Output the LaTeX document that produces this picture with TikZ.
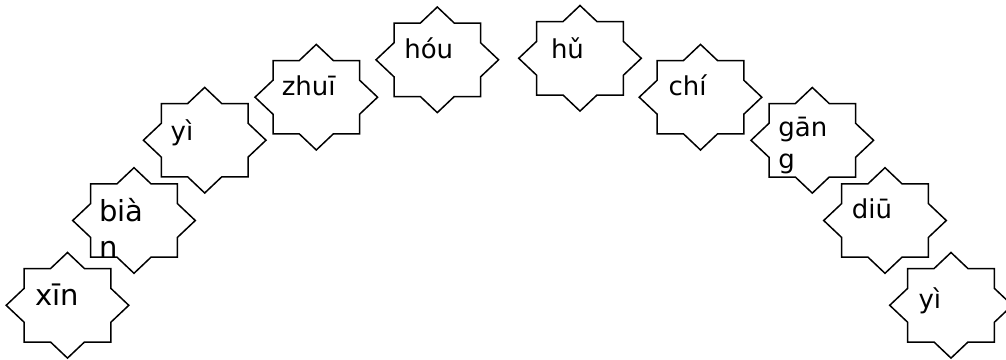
\documentclass[tikz,border=0pt]{standalone}
\usepackage{fontspec}
\setmainfont{DejaVu Sans}
\tikzset{
  starline/.style={draw=black, line width=1.5pt, line join=miter, fill=white},
  starbox/.style={draw=none, inner sep=0pt, minimum width=122.6pt, minimum height=105.6pt},
  pylabel/.style={anchor=base west, inner sep=0pt, outer sep=0pt, align=left, text=black},
  bigpy/.style={font=\fontsize{29}{35.3}\selectfont},
  smallpy/.style={font=\fontsize{26}{31.6}\selectfont},
}
\newcommand\pystar[3]{% name, cx, cy
  \node[starbox] (#1) at (#2,#3) {};
  \draw[starline, shift={(#1.center)}]
    (61.3,0) -- (43.3,17) -- (43.3,36.7) -- (17,36.7) -- (0,52.8) -- (-17,36.7)
    -- (-43.3,36.7) -- (-43.3,17) -- (-61.3,0) -- (-43.3,-17) -- (-43.3,-36.7)
    -- (-17,-36.7) -- (0,-52.8) -- (17,-36.7) -- (43.3,-36.7) -- (43.3,-17) -- cycle;
}
\begin{document}
\begin{tikzpicture}[x=1pt, y=-1pt]
\useasboundingbox (0,0) rectangle (1006,359);
\pystar{s1}{67.5}{305.3}
\pystar{s2}{134}{220.5}
\pystar{s3}{204.7}{140.2}
\pystar{s4}{316.3}{97.2}
\pystar{s5}{437.3}{59.8}
\pystar{s6}{580}{58.3}
\pystar{s7}{700.5}{97.2}
\pystar{s8}{812.3}{140.3}
\pystar{s9}{885}{220.5}
\pystar{s10}{951}{305.3}
\node[pylabel, bigpy] (t1) at (35.5,305) {xīn};
\node[pylabel, bigpy] (t2) at (99,257) {bià\\n};
\node[pylabel, smallpy] (t3) at (170.7,140) {yì};
\node[pylabel, smallpy] (t4) at (281.8,95) {zhuī};
\node[pylabel, smallpy] (t5) at (404.3,58.3) {hóu};
\node[pylabel, smallpy] (t6) at (551,58.3) {hǔ};
\node[pylabel, smallpy] (t7) at (668.6,95) {chí};
\node[pylabel, smallpy] (t8) at (778.4,168.3) {gān\\g};
\node[pylabel, smallpy] (t9) at (851.9,218.3) {diū};
\node[pylabel, smallpy] (t10) at (918.5,308.3) {yì};
\end{tikzpicture}
\end{document}
